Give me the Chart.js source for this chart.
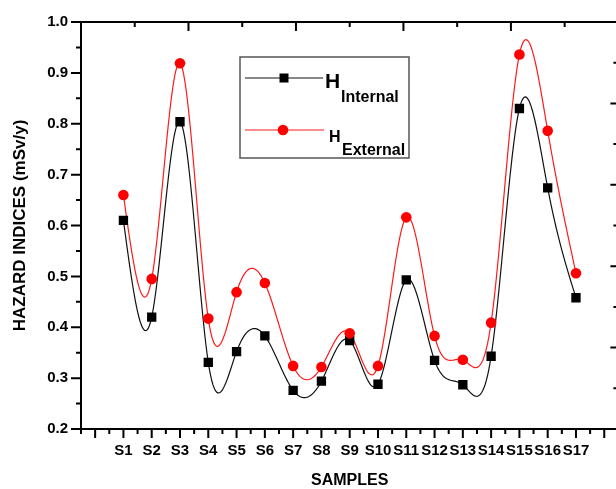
<!DOCTYPE html>
<html>
<head>
<meta charset="utf-8">
<script src="https://cdn.jsdelivr.net/npm/chart.js@4.4.1/dist/chart.umd.min.js"></script>
<style>
    html, body { margin: 0; padding: 0; overflow: hidden; background: #fff; }
    #wrap { width: 616px; height: 489px; overflow: hidden; }
    #myChart { display: block; }
</style>
</head>
<body>
<div id="wrap"><canvas id="myChart" width="625" height="489"></canvas></div>
<script>
// data
const samples = ['S1', 'S2', 'S3', 'S4', 'S5', 'S6', 'S7', 'S8', 'S9', 'S10', 'S11', 'S12', 'S13', 'S14', 'S15', 'S16', 'S17'];
const hInternal = [0.610, 0.420, 0.804, 0.331, 0.352, 0.383, 0.276, 0.294, 0.374, 0.288, 0.493, 0.335, 0.287, 0.343, 0.830, 0.674, 0.458];
const hExternal = [0.660, 0.495, 0.919, 0.417, 0.469, 0.487, 0.324, 0.322, 0.388, 0.324, 0.616, 0.383, 0.336, 0.409, 0.936, 0.786, 0.506];
const yMin = 0.2;
const yMax = 1.0;

const FONT = '"Liberation Sans", Arial, sans-serif';

function toPoints(values) {
    return values.map((v, i) => ({ x: i + 1, y: v }));
}

// natural cubic spline second derivatives (uniform spacing)
function splineM(y) {
    const n = y.length;
    const m = new Array(n).fill(0);
    const c = new Array(n).fill(0);
    const d = new Array(n).fill(0);
    for (let i = 1; i < n - 1; i++) {
        const rhs = 6 * (y[i + 1] - 2 * y[i] + y[i - 1]);
        const denom = 4 - (i > 1 ? c[i - 1] : 0);
        c[i] = 1 / denom;
        d[i] = (rhs - (i > 1 ? d[i - 1] : 0)) / denom;
    }
    for (let i = n - 2; i >= 1; i--) {
        m[i] = d[i] - c[i] * m[i + 1];
    }
    return m;
}

const splinePlugin = {
    id: 'splineLines',
    beforeDatasetsDraw(chart) {
        const { ctx, chartArea, scales } = chart;
        ctx.save();
        ctx.beginPath();
        ctx.rect(chartArea.left, chartArea.top, chartArea.right - chartArea.left, chartArea.bottom - chartArea.top);
        ctx.clip();
        [[hInternal, '#111'], [hExternal, '#ff1a1a']].forEach(([vals, color]) => {
            const m = splineM(vals);
            ctx.beginPath();
            ctx.strokeStyle = color;
            ctx.lineWidth = 1.2;
            for (let i = 0; i < vals.length - 1; i++) {
                for (let s = 0; s <= 24; s++) {
                    const t = s / 24;
                    const u = 1 - t;
                    const v = u * vals[i] + t * vals[i + 1] + ((u * u * u - u) * m[i] + (t * t * t - t) * m[i + 1]) / 6;
                    const px = scales.x.getPixelForValue(i + 1 + t);
                    const py = scales.y.getPixelForValue(v);
                    if (i === 0 && s === 0) ctx.moveTo(px, py); else ctx.lineTo(px, py);
                }
            }
            ctx.stroke();
        });
        ctx.restore();
    }
};

const framePlugin = {
    id: 'frame',
    afterDraw(chart) {
        const { ctx, chartArea } = chart;
        const { left, right, top, bottom } = chartArea;
        const sx = chart.scales.x, sy = chart.scales.y;
        const sTop = chart.scales.xTop, sRight = chart.scales.yRight;
        ctx.save();
        ctx.strokeStyle = '#000';
        ctx.lineWidth = 2;
        ctx.strokeRect(left, top, right - left, bottom - top);
        ctx.beginPath();
        // left ticks, outward
        sy.ticks.forEach(t => {
            const major = Math.abs(t.value * 10 - Math.round(t.value * 10)) < 1e-6;
            const y = sy.getPixelForValue(t.value);
            ctx.moveTo(left, y);
            ctx.lineTo(left - (major ? 10 : 5), y);
        });
        // bottom ticks, outward
        sx.ticks.forEach(t => {
            const major = Math.abs(t.value - Math.round(t.value)) < 1e-6;
            const x = sx.getPixelForValue(t.value);
            ctx.moveTo(x, bottom);
            ctx.lineTo(x, bottom + (major ? 9 : 5));
        });
        // top ticks, inward
        for (let k = 1; k < 10; k++) {
            const x = sTop.getPixelForValue(k);
            ctx.moveTo(x, top);
            ctx.lineTo(x, top + (k % 2 === 0 ? 9 : 5));
        }
        // right ticks, inward
        for (let k = 1; k < 10; k++) {
            const y = sRight.getPixelForValue(k / 2);
            ctx.moveTo(right, y);
            ctx.lineTo(right - (k % 2 === 0 ? 8 : 5), y);
        }
        ctx.stroke();

        // legend box
        ctx.lineWidth = 1.5;
        ctx.strokeStyle = '#555';
        ctx.strokeRect(240, 57, 169, 101);

        ctx.lineWidth = 1.2;
        ctx.strokeStyle = '#111';
        ctx.beginPath();
        ctx.moveTo(245, 78); ctx.lineTo(323, 78);
        ctx.stroke();
        ctx.fillStyle = '#000';
        ctx.fillRect(279.5, 73.5, 9, 9);

        ctx.strokeStyle = '#ff1a1a';
        ctx.beginPath();
        ctx.moveTo(245, 130); ctx.lineTo(324, 130);
        ctx.stroke();
        ctx.fillStyle = '#ff0000';
        ctx.beginPath();
        ctx.arc(283, 130, 5.3, 0, Math.PI * 2);
        ctx.fill();

        ctx.fillStyle = '#000';
        ctx.textBaseline = 'alphabetic';
        ctx.textAlign = 'left';
        ctx.font = 'bold 21px ' + FONT;
        ctx.fillText('H', 325, 88);
        ctx.font = 'bold 16px ' + FONT;
        ctx.fillText('Internal', 341, 102);
        ctx.fillText('H', 329, 142);
        ctx.fillText('External', 342, 155);
        ctx.restore();
    }
};

const ctx = document.getElementById('myChart').getContext('2d');

const myChart = new Chart(ctx, {
    type: 'scatter',
    data: {
        datasets: [{
            label: 'H External',
            data: toPoints(hExternal),
            backgroundColor: '#ff0000',
            borderColor: '#ff0000',
            pointStyle: 'circle',
            pointRadius: 5.3,
            pointBorderWidth: 0,
            showLine: false
        }, {
            label: 'H Internal',
            data: toPoints(hInternal),
            backgroundColor: '#000',
            borderColor: '#000',
            pointStyle: 'rect',
            pointRadius: 6.6,
            pointBorderWidth: 0,
            showLine: false
        }]
    },
    plugins: [splinePlugin, framePlugin],
    options: {
        responsive: false,
        maintainAspectRatio: false,
        devicePixelRatio: 1,
        animation: false,
        layout: { padding: { left: 0, top: 22, right: 6, bottom: 0 } },
        plugins: {
            legend: { display: false },
            tooltip: { enabled: false }
        },
        scales: {
            x: {
                type: 'linear',
                position: 'bottom',
                min: -0.5,
                max: 18.5,
                afterFit: s => { s.height = 60; },
                grid: { display: false, drawTicks: true, tickLength: 13 },
                border: { display: false },
                ticks: {
                    stepSize: 0.5,
                    autoSkip: false,
                    maxRotation: 0,
                    padding: 0,
                    color: '#000',
                    font: { family: FONT, size: 15, weight: 'bold' },
                    callback: v => {
                        const i = Math.round(v);
                        return (Math.abs(v - i) < 1e-6 && i >= 1 && i <= samples.length) ? samples[i - 1] : '';
                    }
                },
                title: {
                    display: true,
                    text: 'SAMPLES',
                    color: '#000',
                    padding: { top: 0, bottom: 0 },
                    font: { family: FONT, size: 16, weight: 'bold', lineHeight: 1.0 }
                }
            },
            y: {
                min: yMin,
                max: yMax,
                afterFit: s => { s.width = 81; },
                grid: { display: false, drawTicks: true, tickLength: 13 },
                border: { display: false },
                ticks: {
                    stepSize: 0.05,
                    autoSkip: false,
                    padding: 0,
                    color: '#000',
                    font: { family: FONT, size: 15, weight: 'bold' },
                    callback: v => Math.abs(v * 10 - Math.round(v * 10)) < 1e-6 ? v.toFixed(1) : ''
                },
                title: {
                    display: true,
                    text: 'HAZARD INDICES (mSv/y)',
                    color: '#000',
                    padding: { top: 10, bottom: 0 },
                    font: { family: FONT, size: 17, weight: 'bold' }
                }
            },
            xTop: {
                type: 'linear',
                position: 'top',
                display: false,
                min: 0,
                max: 10
            },
            yRight: {
                type: 'linear',
                position: 'right',
                display: false,
                min: 0,
                max: 5
            }
        }
    }
});
</script>
</body>
</html>
